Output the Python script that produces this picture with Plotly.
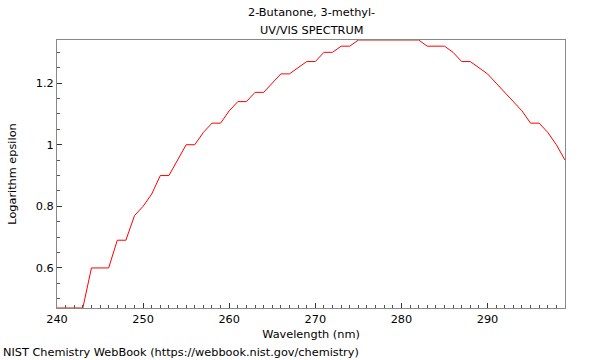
import plotly.graph_objects as go

wavelength = list(range(240, 300))
log_epsilon = [0.47, 0.47, 0.47, 0.47, 0.60, 0.60, 0.60, 0.69, 0.69, 0.77,
               0.80, 0.84, 0.90, 0.90, 0.95, 1.00, 1.00, 1.04, 1.07, 1.07,
               1.11, 1.14, 1.14, 1.17, 1.17, 1.20, 1.23, 1.23, 1.25, 1.27,
               1.27, 1.30, 1.30, 1.32, 1.32, 1.34, 1.34, 1.34, 1.34, 1.34,
               1.34, 1.34, 1.34, 1.32, 1.32, 1.32, 1.30, 1.27, 1.27, 1.25,
               1.23, 1.20, 1.17, 1.14, 1.11, 1.07, 1.07, 1.04, 1.00, 0.95]
x_ticks = [240, 250, 260, 270, 280, 290]
y_ticks = [0.6, 0.8, 1.0, 1.2]
y_tick_text = ["0.6", "0.8", "1", "1.2"]
title_lines = ["2-Butanone, 3-methyl-", "UV/VIS SPECTRUM"]
footer = "NIST Chemistry WebBook (https://webbook.nist.gov/chemistry)"

FONT = "DejaVu Sans"
FS = 11.3
PW, PH = 508, 268

fig = go.Figure()
fig.add_trace(go.Scatter(x=wavelength, y=log_epsilon, mode="lines",
                         line=dict(color="#ff0000", width=1),
                         cliponaxis=True, showlegend=False))

annots = []
for text, ypix in zip(title_lines, [13, 30]):
    annots.append(dict(text=text, xref="paper", yref="paper", x=0.5, y=1 + (40 - ypix) / PH,
                       xanchor="center", yanchor="middle", showarrow=False,
                       font=dict(family=FONT, size=FS, color="black")))
annots.append(dict(text=footer, xref="paper", yref="paper", x=-57 / PW, y=1 - (352 - 40) / PH,
                   xanchor="left", yanchor="middle", showarrow=False, xshift=1,
                   font=dict(family=FONT, size=FS, color="black")))

fig.update_layout(
    width=600, height=360,
    margin=dict(l=57, r=35, t=40, b=52),
    paper_bgcolor="white", plot_bgcolor="white",
    font=dict(family=FONT, size=FS, color="black"),
    annotations=annots,
)

fig.update_xaxes(range=[240, 299], tickvals=x_ticks, ticks="inside", ticklen=5,
                 tickcolor="#333333", showline=True, linecolor="#888888", linewidth=1,
                 mirror=True, showgrid=False, zeroline=False,
                 minor=dict(dtick=1, ticks="inside", ticklen=3, tickcolor="#555555", showgrid=False),
                 title=dict(text="Wavelength (nm)", standoff=5,
                            font=dict(family=FONT, size=FS)),
                 tickfont=dict(family=FONT, size=FS))
fig.update_yaxes(range=[0.47, 1.34], tickvals=y_ticks, ticktext=y_tick_text,
                 ticks="inside", ticklen=5,
                 tickcolor="#333333", showline=True, linecolor="#888888", linewidth=1,
                 mirror=True, showgrid=False, zeroline=False,
                 minor=dict(dtick=0.05, tick0=0, ticks="inside", ticklen=3, tickcolor="#555555", showgrid=False),
                 title=dict(text="Logarithm epsilon", standoff=16,
                            font=dict(family=FONT, size=FS)),
                 tickfont=dict(family=FONT, size=FS))

fig.write_html("out.html", config={"displayModeBar": False},
               post_script="document.body.style.margin='0';document.body.style.overflow='hidden';")
